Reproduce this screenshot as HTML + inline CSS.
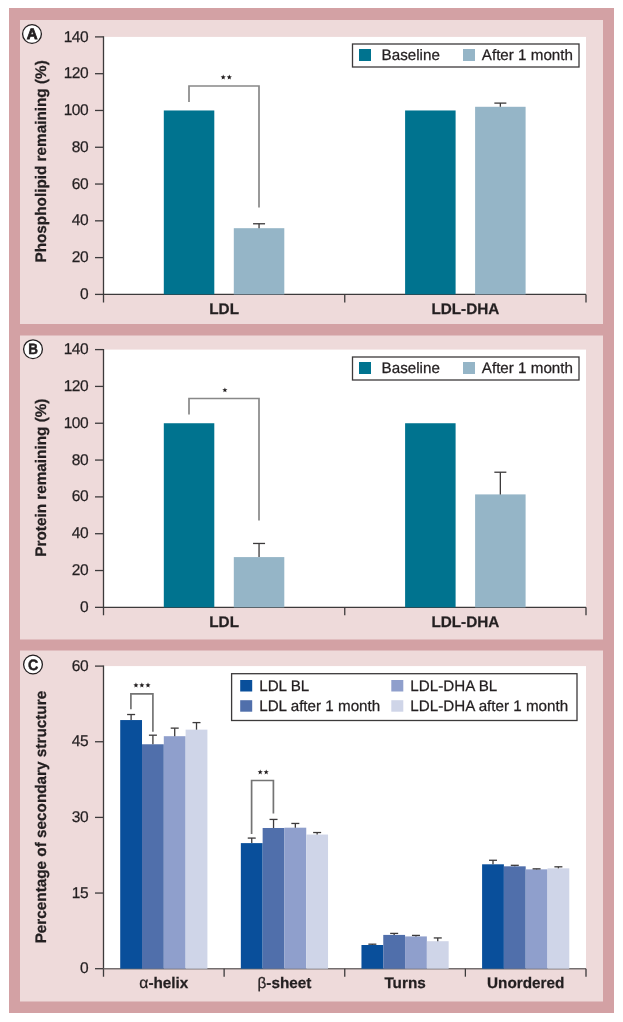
<!DOCTYPE html>
<html><head><meta charset="utf-8"><style>
html,body{margin:0;padding:0;background:#fff;}
svg{display:block;will-change:transform;}
text{stroke:#231f20;stroke-width:0.25px;text-rendering:geometricPrecision;}
</style></head><body>
<svg width="623" height="1022" viewBox="0 0 623 1022">
<rect x="0" y="0" width="623" height="1022" fill="#fff"/>
<rect x="9" y="8" width="605" height="1005" fill="#d3a1a4"/>
<rect x="20" y="20" width="583" height="304" fill="#eedada"/>
<rect x="20" y="335.5" width="583" height="304" fill="#eedada"/>
<rect x="20" y="650.5" width="583" height="351" fill="#eedada"/>
<circle cx="32" cy="34" r="9.4" fill="#fff" stroke="#231f20" stroke-width="1.3"/>
<text transform="translate(32.1 34.0) scale(1.0 1.0)" x="0" y="4.95" text-anchor="middle" font-family='"Liberation Sans", sans-serif' font-weight="bold" font-size="15" fill="#231f20" style="stroke-width:0.8px">A</text>
<rect x="103.5" y="36.9" width="482.5" height="257.5" fill="#fff"/>
<line x1="95" y1="294.40" x2="103.5" y2="294.40" stroke="#3c3a3b" stroke-width="1.3"/>
<text x="88.2" y="299.00" text-anchor="end" font-family='"Liberation Sans", sans-serif' font-size="15.5" letter-spacing="-0.45" fill="#231f20">0</text>
<line x1="95" y1="257.61" x2="103.5" y2="257.61" stroke="#3c3a3b" stroke-width="1.3"/>
<text x="88.2" y="262.21" text-anchor="end" font-family='"Liberation Sans", sans-serif' font-size="15.5" letter-spacing="-0.45" fill="#231f20">20</text>
<line x1="95" y1="220.83" x2="103.5" y2="220.83" stroke="#3c3a3b" stroke-width="1.3"/>
<text x="88.2" y="225.43" text-anchor="end" font-family='"Liberation Sans", sans-serif' font-size="15.5" letter-spacing="-0.45" fill="#231f20">40</text>
<line x1="95" y1="184.04" x2="103.5" y2="184.04" stroke="#3c3a3b" stroke-width="1.3"/>
<text x="88.2" y="188.64" text-anchor="end" font-family='"Liberation Sans", sans-serif' font-size="15.5" letter-spacing="-0.45" fill="#231f20">60</text>
<line x1="95" y1="147.26" x2="103.5" y2="147.26" stroke="#3c3a3b" stroke-width="1.3"/>
<text x="88.2" y="151.86" text-anchor="end" font-family='"Liberation Sans", sans-serif' font-size="15.5" letter-spacing="-0.45" fill="#231f20">80</text>
<line x1="95" y1="110.47" x2="103.5" y2="110.47" stroke="#3c3a3b" stroke-width="1.3"/>
<text x="88.2" y="115.07" text-anchor="end" font-family='"Liberation Sans", sans-serif' font-size="15.5" letter-spacing="-0.45" fill="#231f20">100</text>
<line x1="95" y1="73.69" x2="103.5" y2="73.69" stroke="#3c3a3b" stroke-width="1.3"/>
<text x="88.2" y="78.29" text-anchor="end" font-family='"Liberation Sans", sans-serif' font-size="15.5" letter-spacing="-0.45" fill="#231f20">120</text>
<line x1="95" y1="36.90" x2="103.5" y2="36.90" stroke="#3c3a3b" stroke-width="1.3"/>
<text x="88.2" y="41.50" text-anchor="end" font-family='"Liberation Sans", sans-serif' font-size="15.5" letter-spacing="-0.45" fill="#231f20">140</text>
<line x1="103.5" y1="36.3" x2="103.5" y2="302.4" stroke="#3c3a3b" stroke-width="1.3"/>
<line x1="103.5" y1="294.4" x2="586" y2="294.4" stroke="#3c3a3b" stroke-width="1.4"/>
<line x1="344.75" y1="294.4" x2="344.75" y2="302.4" stroke="#3c3a3b" stroke-width="1.3"/>
<line x1="586.00" y1="294.4" x2="586.00" y2="302.4" stroke="#3c3a3b" stroke-width="1.3"/>
<text transform="translate(46.0 161.4) rotate(-90)" text-anchor="middle" font-family='"Liberation Sans", sans-serif' font-weight="bold" font-size="15.3" fill="#231f20">Phospholipid remaining (%)</text>
<rect x="163.8" y="110.47" width="50.50" height="183.93" fill="#00738f"/>
<rect x="233.8" y="228.19" width="50.50" height="66.21" fill="#95b5c7"/>
<line x1="259.05" y1="228.19" x2="259.05" y2="223.77" stroke="#3c3a3b" stroke-width="1.3"/>
<line x1="253.05" y1="223.77" x2="265.05" y2="223.77" stroke="#3c3a3b" stroke-width="1.3"/>
<rect x="405.1" y="110.47" width="50.50" height="183.93" fill="#00738f"/>
<rect x="475.1" y="106.79" width="50.50" height="187.61" fill="#95b5c7"/>
<line x1="500.35" y1="106.79" x2="500.35" y2="103.11" stroke="#3c3a3b" stroke-width="1.3"/>
<line x1="494.35" y1="103.11" x2="506.35" y2="103.11" stroke="#3c3a3b" stroke-width="1.3"/>
<polyline points="189,102 189,86 259,86 259,207.4" fill="none" stroke="#888" stroke-width="1.7"/>
<polygon points="223.20,74.60 223.88,76.37 225.77,76.47 224.29,77.66 224.79,79.48 223.20,78.45 221.61,79.48 222.11,77.66 220.63,76.47 222.52,76.37" fill="#231f20"/>
<polygon points="229.30,74.60 229.98,76.37 231.87,76.47 230.39,77.66 230.89,79.48 229.30,78.45 227.71,79.48 228.21,77.66 226.73,76.47 228.62,76.37" fill="#231f20"/>
<text x="224.12" y="313.9" text-anchor="middle" font-family='"Liberation Sans", sans-serif' font-weight="bold" font-size="15.3" fill="#231f20">LDL</text>
<text x="465.38" y="313.9" text-anchor="middle" font-family='"Liberation Sans", sans-serif' font-weight="bold" font-size="15.3" fill="#231f20">LDL-DHA</text>
<rect x="352.5" y="44" width="226.5" height="23" fill="#fff" stroke="#3c3a3b" stroke-width="1.3"/>
<rect x="359" y="49" width="12" height="12" fill="#00738f"/>
<rect x="463" y="49" width="12" height="12" fill="#95b5c7"/>
<text x="381.6" y="60" font-family='"Liberation Sans", sans-serif' font-size="15.2" fill="#231f20">Baseline</text>
<text x="481.8" y="60" font-family='"Liberation Sans", sans-serif' font-size="15.2" fill="#231f20">After 1 month</text>
<circle cx="33" cy="349.2" r="9.4" fill="#fff" stroke="#231f20" stroke-width="1.3"/>
<text transform="translate(33.1 349.2) scale(0.9 1.0)" x="0" y="4.95" text-anchor="middle" font-family='"Liberation Sans", sans-serif' font-weight="bold" font-size="15" fill="#231f20" style="stroke-width:0.45px">B</text>
<rect x="103.5" y="349.6" width="482.5" height="257.75" fill="#fff"/>
<line x1="95" y1="607.35" x2="103.5" y2="607.35" stroke="#3c3a3b" stroke-width="1.3"/>
<text x="88.2" y="611.95" text-anchor="end" font-family='"Liberation Sans", sans-serif' font-size="15.5" letter-spacing="-0.45" fill="#231f20">0</text>
<line x1="95" y1="570.53" x2="103.5" y2="570.53" stroke="#3c3a3b" stroke-width="1.3"/>
<text x="88.2" y="575.13" text-anchor="end" font-family='"Liberation Sans", sans-serif' font-size="15.5" letter-spacing="-0.45" fill="#231f20">20</text>
<line x1="95" y1="533.71" x2="103.5" y2="533.71" stroke="#3c3a3b" stroke-width="1.3"/>
<text x="88.2" y="538.31" text-anchor="end" font-family='"Liberation Sans", sans-serif' font-size="15.5" letter-spacing="-0.45" fill="#231f20">40</text>
<line x1="95" y1="496.89" x2="103.5" y2="496.89" stroke="#3c3a3b" stroke-width="1.3"/>
<text x="88.2" y="501.49" text-anchor="end" font-family='"Liberation Sans", sans-serif' font-size="15.5" letter-spacing="-0.45" fill="#231f20">60</text>
<line x1="95" y1="460.06" x2="103.5" y2="460.06" stroke="#3c3a3b" stroke-width="1.3"/>
<text x="88.2" y="464.66" text-anchor="end" font-family='"Liberation Sans", sans-serif' font-size="15.5" letter-spacing="-0.45" fill="#231f20">80</text>
<line x1="95" y1="423.24" x2="103.5" y2="423.24" stroke="#3c3a3b" stroke-width="1.3"/>
<text x="88.2" y="427.84" text-anchor="end" font-family='"Liberation Sans", sans-serif' font-size="15.5" letter-spacing="-0.45" fill="#231f20">100</text>
<line x1="95" y1="386.42" x2="103.5" y2="386.42" stroke="#3c3a3b" stroke-width="1.3"/>
<text x="88.2" y="391.02" text-anchor="end" font-family='"Liberation Sans", sans-serif' font-size="15.5" letter-spacing="-0.45" fill="#231f20">120</text>
<line x1="95" y1="349.60" x2="103.5" y2="349.60" stroke="#3c3a3b" stroke-width="1.3"/>
<text x="88.2" y="354.20" text-anchor="end" font-family='"Liberation Sans", sans-serif' font-size="15.5" letter-spacing="-0.45" fill="#231f20">140</text>
<line x1="103.5" y1="349.0" x2="103.5" y2="615.35" stroke="#3c3a3b" stroke-width="1.3"/>
<line x1="103.5" y1="607.35" x2="586" y2="607.35" stroke="#3c3a3b" stroke-width="1.4"/>
<line x1="344.75" y1="607.35" x2="344.75" y2="615.35" stroke="#3c3a3b" stroke-width="1.3"/>
<line x1="586.00" y1="607.35" x2="586.00" y2="615.35" stroke="#3c3a3b" stroke-width="1.3"/>
<text transform="translate(46.0 477.6) rotate(-90)" text-anchor="middle" font-family='"Liberation Sans", sans-serif' font-weight="bold" font-size="15.3" fill="#231f20">Protein remaining (%)</text>
<rect x="163.8" y="423.24" width="50.50" height="184.11" fill="#00738f"/>
<rect x="233.8" y="557.09" width="50.50" height="50.26" fill="#95b5c7"/>
<line x1="259.05" y1="557.09" x2="259.05" y2="543.46" stroke="#3c3a3b" stroke-width="1.3"/>
<line x1="253.05" y1="543.46" x2="265.05" y2="543.46" stroke="#3c3a3b" stroke-width="1.3"/>
<rect x="405.1" y="423.24" width="50.50" height="184.11" fill="#00738f"/>
<rect x="475.1" y="494.40" width="50.50" height="112.95" fill="#95b5c7"/>
<line x1="500.35" y1="494.40" x2="500.35" y2="472.22" stroke="#3c3a3b" stroke-width="1.3"/>
<line x1="494.35" y1="472.22" x2="506.35" y2="472.22" stroke="#3c3a3b" stroke-width="1.3"/>
<polyline points="189,414.4 189,398.5 259,398.5 259,520.4" fill="none" stroke="#888" stroke-width="1.7"/>
<polygon points="224.90,387.40 225.58,389.17 227.47,389.27 225.99,390.46 226.49,392.28 224.90,391.25 223.31,392.28 223.81,390.46 222.33,389.27 224.22,389.17" fill="#231f20"/>
<text x="224.12" y="626.85" text-anchor="middle" font-family='"Liberation Sans", sans-serif' font-weight="bold" font-size="15.3" fill="#231f20">LDL</text>
<text x="465.38" y="626.85" text-anchor="middle" font-family='"Liberation Sans", sans-serif' font-weight="bold" font-size="15.3" fill="#231f20">LDL-DHA</text>
<rect x="352.5" y="357" width="226.5" height="23" fill="#fff" stroke="#3c3a3b" stroke-width="1.3"/>
<rect x="359" y="362" width="12" height="12" fill="#00738f"/>
<rect x="463" y="362" width="12" height="12" fill="#95b5c7"/>
<text x="381.6" y="373" font-family='"Liberation Sans", sans-serif' font-size="15.2" fill="#231f20">Baseline</text>
<text x="481.8" y="373" font-family='"Liberation Sans", sans-serif' font-size="15.2" fill="#231f20">After 1 month</text>
<circle cx="33.0" cy="664.5" r="9.4" fill="#fff" stroke="#231f20" stroke-width="1.3"/>
<text transform="translate(33.1 665.1) scale(0.95 1.0)" x="0" y="4.95" text-anchor="middle" font-family='"Liberation Sans", sans-serif' font-weight="bold" font-size="15" fill="#231f20" style="stroke-width:0.5px">C</text>
<rect x="103.5" y="666.1" width="482.5" height="302.6" fill="#fff"/>
<line x1="95" y1="968.70" x2="103.5" y2="968.70" stroke="#3c3a3b" stroke-width="1.3"/>
<text x="88.2" y="973.30" text-anchor="end" font-family='"Liberation Sans", sans-serif' font-size="15.5" letter-spacing="-0.45" fill="#231f20">0</text>
<line x1="95" y1="893.05" x2="103.5" y2="893.05" stroke="#3c3a3b" stroke-width="1.3"/>
<text x="88.2" y="897.65" text-anchor="end" font-family='"Liberation Sans", sans-serif' font-size="15.5" letter-spacing="-0.45" fill="#231f20">15</text>
<line x1="95" y1="817.40" x2="103.5" y2="817.40" stroke="#3c3a3b" stroke-width="1.3"/>
<text x="88.2" y="822.00" text-anchor="end" font-family='"Liberation Sans", sans-serif' font-size="15.5" letter-spacing="-0.45" fill="#231f20">30</text>
<line x1="95" y1="741.75" x2="103.5" y2="741.75" stroke="#3c3a3b" stroke-width="1.3"/>
<text x="88.2" y="746.35" text-anchor="end" font-family='"Liberation Sans", sans-serif' font-size="15.5" letter-spacing="-0.45" fill="#231f20">45</text>
<line x1="95" y1="666.10" x2="103.5" y2="666.10" stroke="#3c3a3b" stroke-width="1.3"/>
<text x="88.2" y="670.70" text-anchor="end" font-family='"Liberation Sans", sans-serif' font-size="15.5" letter-spacing="-0.45" fill="#231f20">60</text>
<line x1="103.5" y1="665.5" x2="103.5" y2="976.7" stroke="#3c3a3b" stroke-width="1.3"/>
<line x1="103.5" y1="968.7" x2="586" y2="968.7" stroke="#746e6f" stroke-width="1.4"/>
<line x1="224.12" y1="968.7" x2="224.12" y2="976.7" stroke="#3c3a3b" stroke-width="1.3"/>
<line x1="344.75" y1="968.7" x2="344.75" y2="976.7" stroke="#3c3a3b" stroke-width="1.3"/>
<line x1="465.38" y1="968.7" x2="465.38" y2="976.7" stroke="#3c3a3b" stroke-width="1.3"/>
<line x1="586.00" y1="968.7" x2="586.00" y2="976.7" stroke="#3c3a3b" stroke-width="1.3"/>
<text transform="translate(46.0 817.1) rotate(-90)" text-anchor="middle" font-family='"Liberation Sans", sans-serif' font-weight="bold" font-size="15.3" fill="#231f20">Percentage of secondary structure</text>
<rect x="120.21" y="720.06" width="21.80" height="248.64" fill="#094f9b"/>
<line x1="131.11" y1="720.06" x2="131.11" y2="714.52" stroke="#3c3a3b" stroke-width="1.3"/>
<line x1="127.11" y1="714.52" x2="135.11" y2="714.52" stroke="#3c3a3b" stroke-width="1.3"/>
<rect x="142.01" y="744.27" width="21.80" height="224.43" fill="#506fab"/>
<line x1="152.91" y1="744.27" x2="152.91" y2="735.19" stroke="#3c3a3b" stroke-width="1.3"/>
<line x1="148.91" y1="735.19" x2="156.91" y2="735.19" stroke="#3c3a3b" stroke-width="1.3"/>
<rect x="163.81" y="736.20" width="21.80" height="232.50" fill="#8f9fcc"/>
<line x1="174.71" y1="736.20" x2="174.71" y2="728.13" stroke="#3c3a3b" stroke-width="1.3"/>
<line x1="170.71" y1="728.13" x2="178.71" y2="728.13" stroke="#3c3a3b" stroke-width="1.3"/>
<rect x="185.61" y="729.65" width="21.80" height="239.05" fill="#cfd5e8"/>
<line x1="196.51" y1="729.65" x2="196.51" y2="722.59" stroke="#3c3a3b" stroke-width="1.3"/>
<line x1="192.51" y1="722.59" x2="200.51" y2="722.59" stroke="#3c3a3b" stroke-width="1.3"/>
<rect x="240.84" y="843.12" width="21.80" height="125.58" fill="#094f9b"/>
<line x1="251.74" y1="843.12" x2="251.74" y2="838.08" stroke="#3c3a3b" stroke-width="1.3"/>
<line x1="247.74" y1="838.08" x2="255.74" y2="838.08" stroke="#3c3a3b" stroke-width="1.3"/>
<rect x="262.64" y="827.99" width="21.80" height="140.71" fill="#506fab"/>
<line x1="273.54" y1="827.99" x2="273.54" y2="819.42" stroke="#3c3a3b" stroke-width="1.3"/>
<line x1="269.54" y1="819.42" x2="277.54" y2="819.42" stroke="#3c3a3b" stroke-width="1.3"/>
<rect x="284.44" y="827.69" width="21.80" height="141.01" fill="#8f9fcc"/>
<line x1="295.34" y1="827.69" x2="295.34" y2="823.45" stroke="#3c3a3b" stroke-width="1.3"/>
<line x1="291.34" y1="823.45" x2="299.34" y2="823.45" stroke="#3c3a3b" stroke-width="1.3"/>
<rect x="306.24" y="834.55" width="21.80" height="134.15" fill="#cfd5e8"/>
<line x1="317.14" y1="834.55" x2="317.14" y2="832.53" stroke="#3c3a3b" stroke-width="1.3"/>
<line x1="313.14" y1="832.53" x2="321.14" y2="832.53" stroke="#3c3a3b" stroke-width="1.3"/>
<rect x="361.46" y="945.00" width="21.80" height="23.70" fill="#094f9b"/>
<line x1="372.36" y1="945.00" x2="372.36" y2="944.19" stroke="#3c3a3b" stroke-width="1.3"/>
<line x1="368.36" y1="944.19" x2="376.36" y2="944.19" stroke="#3c3a3b" stroke-width="1.3"/>
<rect x="383.26" y="934.91" width="21.80" height="33.79" fill="#506fab"/>
<line x1="394.16" y1="934.91" x2="394.16" y2="933.40" stroke="#3c3a3b" stroke-width="1.3"/>
<line x1="390.16" y1="933.40" x2="398.16" y2="933.40" stroke="#3c3a3b" stroke-width="1.3"/>
<rect x="405.06" y="936.42" width="21.80" height="32.28" fill="#8f9fcc"/>
<line x1="415.96" y1="936.42" x2="415.96" y2="935.41" stroke="#3c3a3b" stroke-width="1.3"/>
<line x1="411.96" y1="935.41" x2="419.96" y2="935.41" stroke="#3c3a3b" stroke-width="1.3"/>
<rect x="426.86" y="941.21" width="21.80" height="27.49" fill="#cfd5e8"/>
<line x1="437.76" y1="941.21" x2="437.76" y2="937.94" stroke="#3c3a3b" stroke-width="1.3"/>
<line x1="433.76" y1="937.94" x2="441.76" y2="937.94" stroke="#3c3a3b" stroke-width="1.3"/>
<rect x="482.09" y="864.30" width="21.80" height="104.40" fill="#094f9b"/>
<line x1="492.99" y1="864.30" x2="492.99" y2="860.27" stroke="#3c3a3b" stroke-width="1.3"/>
<line x1="488.99" y1="860.27" x2="496.99" y2="860.27" stroke="#3c3a3b" stroke-width="1.3"/>
<rect x="503.89" y="866.32" width="21.80" height="102.38" fill="#506fab"/>
<line x1="514.79" y1="866.32" x2="514.79" y2="865.31" stroke="#3c3a3b" stroke-width="1.3"/>
<line x1="510.79" y1="865.31" x2="518.79" y2="865.31" stroke="#3c3a3b" stroke-width="1.3"/>
<rect x="525.69" y="869.35" width="21.80" height="99.35" fill="#8f9fcc"/>
<line x1="536.59" y1="869.35" x2="536.59" y2="868.84" stroke="#3c3a3b" stroke-width="1.3"/>
<line x1="532.59" y1="868.84" x2="540.59" y2="868.84" stroke="#3c3a3b" stroke-width="1.3"/>
<rect x="547.49" y="868.34" width="21.80" height="100.36" fill="#cfd5e8"/>
<line x1="558.39" y1="868.34" x2="558.39" y2="866.82" stroke="#3c3a3b" stroke-width="1.3"/>
<line x1="554.39" y1="866.82" x2="562.39" y2="866.82" stroke="#3c3a3b" stroke-width="1.3"/>
<polyline points="130.9,709.3 130.9,693.8 152.9,693.8 152.9,731.8" fill="none" stroke="#747474" stroke-width="1.7"/>
<polygon points="135.95,682.60 136.63,684.37 138.52,684.47 137.04,685.66 137.54,687.48 135.95,686.45 134.36,687.48 134.86,685.66 133.38,684.47 135.27,684.37" fill="#231f20"/>
<polygon points="141.85,682.60 142.53,684.37 144.42,684.47 142.94,685.66 143.44,687.48 141.85,686.45 140.26,687.48 140.76,685.66 139.28,684.47 141.17,684.37" fill="#231f20"/>
<polygon points="148.00,682.60 148.68,684.37 150.57,684.47 149.09,685.66 149.59,687.48 148.00,686.45 146.41,687.48 146.91,685.66 145.43,684.47 147.32,684.37" fill="#231f20"/>
<polyline points="251.6,833.9 251.6,780.5 273.4,780.5 273.4,813.6" fill="none" stroke="#747474" stroke-width="1.7"/>
<polygon points="260.20,769.50 260.88,771.27 262.77,771.37 261.29,772.56 261.79,774.38 260.20,773.35 258.61,774.38 259.11,772.56 257.63,771.37 259.52,771.27" fill="#231f20"/>
<polygon points="266.20,769.50 266.88,771.27 268.77,771.37 267.29,772.56 267.79,774.38 266.20,773.35 264.61,774.38 265.11,772.56 263.63,771.37 265.52,771.27" fill="#231f20"/>
<text x="163.81" y="988.2" text-anchor="middle" font-family='"Liberation Sans", sans-serif' font-weight="bold" font-size="15.3" fill="#231f20"><tspan font-weight="normal" font-size="15.8">&#945;</tspan>-helix</text>
<text x="284.44" y="988.2" text-anchor="middle" font-family='"Liberation Sans", sans-serif' font-weight="bold" font-size="15.3" fill="#231f20"><tspan font-weight="normal">&#946;</tspan>-sheet</text>
<text x="405.06" y="988.2" text-anchor="middle" font-family='"Liberation Sans", sans-serif' font-weight="bold" font-size="15.3" fill="#231f20">Turns</text>
<text x="525.69" y="988.2" text-anchor="middle" font-family='"Liberation Sans", sans-serif' font-weight="bold" font-size="15.3" fill="#231f20">Unordered</text>
<rect x="231.6" y="673.7" width="345.4" height="46.8" fill="#fff" stroke="#3c3a3b" stroke-width="1.3"/>
<rect x="240.2" y="680" width="12" height="11.5" fill="#094f9b"/>
<text x="259.2" y="690.6" font-family='"Liberation Sans", sans-serif' font-size="15.2" fill="#231f20">LDL BL</text>
<rect x="240.2" y="700.2" width="12" height="11.5" fill="#506fab"/>
<text x="259.2" y="710.8000000000001" font-family='"Liberation Sans", sans-serif' font-size="15.2" fill="#231f20">LDL after 1 month</text>
<rect x="391.3" y="680" width="12" height="11.5" fill="#8f9fcc"/>
<text x="410.3" y="690.6" font-family='"Liberation Sans", sans-serif' font-size="15.2" fill="#231f20">LDL-DHA BL</text>
<rect x="391.3" y="700.2" width="12" height="11.5" fill="#cfd5e8"/>
<text x="410.3" y="710.8000000000001" font-family='"Liberation Sans", sans-serif' font-size="15.2" fill="#231f20">LDL-DHA after 1 month</text>
</svg>
</body></html>
